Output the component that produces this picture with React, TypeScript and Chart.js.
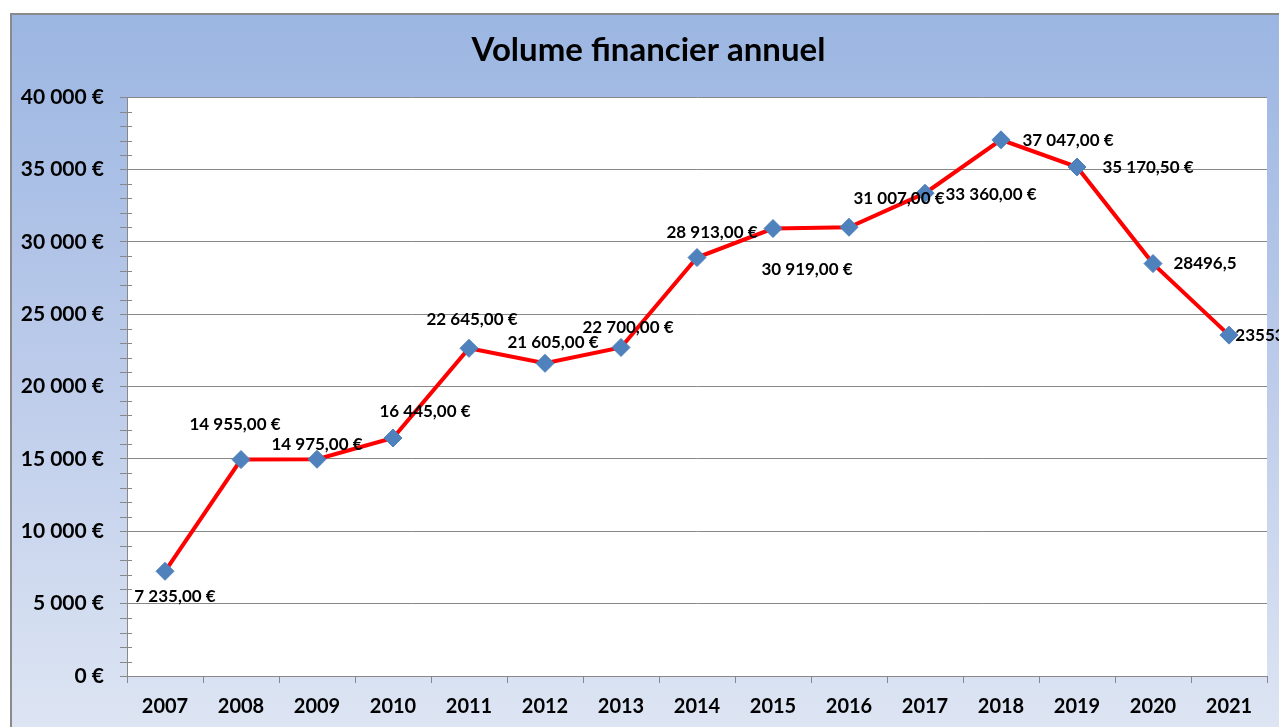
import React, { useEffect, useRef } from "react";
import { Chart, registerables } from "chart.js";

Chart.register(...registerables);

const years = ["2007", "2008", "2009", "2010", "2011", "2012", "2013", "2014", "2015", "2016", "2017", "2018", "2019", "2020", "2021"];
const volumes = [7235, 14955, 14975, 16445, 22645, 21605, 22700, 28913, 30919, 31007, 33360, 37047, 35170.5, 28496.5, 23553];
// label style per point: true = plain number, false = currency format
const plainLabel = [false, false, false, false, false, false, false, false, false, false, false, false, false, true, true];
const yTicks = [0, 5000, 10000, 15000, 20000, 25000, 30000, 35000, 40000];
const titleText = "Volume financier annuel";

// label offsets (px) from each point, for label centre
const labelOffsets: [number, number][] = [
  [10, 25], [-6, -35], [0, -15], [32, -26], [3, -29], [8, -21], [7, -20], [15, -25],
  [34, 41], [50, -29], [66, 1], [67, 1], [71, 1], [52, 0], [31, 0],
];

const FONT = "Lato, 'Open Sans', sans-serif";

function groupThousands(n: number): string {
  return String(n).replace(/\B(?=(\d{3})+(?!\d))/g, " ");
}
function formatEuro(v: number): string {
  const fixed = v.toFixed(2);
  const [ip, dp] = fixed.split(".");
  return groupThousands(Number(ip)) + "," + dp + " €";
}
function formatPlain(v: number): string {
  return String(v).replace(".", ",");
}

const bgPlugin = {
  id: "bgPlugin",
  afterLayout(chart: any) {
    // the original chart frame is wider than the window: shift the title centre
    if (chart.titleBlock) {
      chart.titleBlock.left += 15;
      chart.titleBlock.right += 15;
    }
  },
  beforeDraw(chart: any) {
    const { ctx, width, height, chartArea } = chart;
    ctx.save();
    ctx.fillStyle = "#ffffff";
    ctx.fillRect(0, 0, width, height);
    const g = ctx.createLinearGradient(0, 13, 0, height);
    g.addColorStop(0, "#9bb6e2");
    g.addColorStop(0.5, "#bccbea");
    g.addColorStop(1, "#dde5f3");
    ctx.fillStyle = g;
    ctx.fillRect(10, 13, width - 10, height - 13);
    ctx.strokeStyle = "#8a8a8a";
    ctx.lineWidth = 2;
    ctx.beginPath();
    ctx.moveTo(11, height);
    ctx.lineTo(11, 14);
    ctx.lineTo(width, 14);
    ctx.stroke();
    ctx.fillStyle = "#ffffff";
    ctx.fillRect(chartArea.left, chartArea.top, chartArea.right - chartArea.left, chartArea.bottom - chartArea.top);
    ctx.restore();
  },
};

const minorTickPlugin = {
  id: "minorTicks",
  afterDraw(chart: any) {
    const { ctx, chartArea, scales } = chart;
    const y = scales.y;
    ctx.save();
    ctx.strokeStyle = "#888888";
    ctx.lineWidth = 1;
    for (let v = 1000; v < 40000; v += 1000) {
      if (v % 5000 === 0) continue;
      const py = Math.round(y.getPixelForValue(v)) + 0.5;
      ctx.beginPath();
      ctx.moveTo(chartArea.left - 7, py);
      ctx.lineTo(chartArea.left + 5, py);
      ctx.stroke();
    }
    ctx.restore();
  },
};

const labelPlugin = {
  id: "pointLabels",
  afterDatasetsDraw(chart: any) {
    const { ctx } = chart;
    const meta = chart.getDatasetMeta(0);
    ctx.save();
    ctx.font = `bold 17px ${FONT}`;
    ctx.fillStyle = "#000000";
    ctx.textAlign = "center";
    ctx.textBaseline = "middle";
    meta.data.forEach((pt: any, i: number) => {
      const v = volumes[i];
      const txt = plainLabel[i] ? formatPlain(v) : formatEuro(v);
      const [dx, dy] = labelOffsets[i];
      ctx.fillText(txt, pt.x + dx, pt.y + dy);
    });
    ctx.restore();
  },
};

export default function App() {
  const ref = useRef<HTMLCanvasElement | null>(null);
  useEffect(() => {
    if (!ref.current) return;
    const chart = new Chart(ref.current, {
      type: "line",
      data: {
        labels: years,
        datasets: [
          {
            label: "Volume",
            data: volumes,
            borderColor: "#ff0000",
            borderWidth: 4,
            tension: 0,
            pointStyle: "rectRot",
            pointRadius: 9,
            pointHoverRadius: 9,
            pointBackgroundColor: "#4f81bd",
            pointBorderColor: "#4f81bd",
            pointBorderWidth: 1,
            clip: false as any,
          },
        ],
      },
      options: {
        animation: false,
        responsive: false,
        maintainAspectRatio: false,
        events: [],
        layout: { padding: { left: 0, right: 12, top: 20, bottom: 0 } },
        plugins: {
          legend: { display: false },
          tooltip: { enabled: false },
          title: {
            display: true,
            text: titleText,
            color: "#000000",
            font: { family: FONT, size: 33, weight: "bold" },
            padding: { top: 11, bottom: 26.5 },
          },
        },
        scales: {
          x: {
            type: "category",
            offset: true,
            grid: { display: true, drawOnChartArea: false, drawTicks: true, tickLength: 7, color: "#888888", offset: true },
            border: { display: true, color: "#888888", width: 1 },
            ticks: { color: "#000000", font: { family: FONT, size: 20, weight: "bold" }, padding: 12, maxRotation: 0, autoSkip: false },
            afterFit(scale: any) { scale.height = 51; },
          },
          y: {
            type: "linear",
            min: 0,
            max: 40000,
            afterBuildTicks(scale: any) { scale.ticks = yTicks.map((v) => ({ value: v })); },
            grid: { display: true, drawOnChartArea: true, drawTicks: true, tickLength: 7, color: "#878787" },
            border: { display: true, color: "#888888", width: 1 },
            ticks: {
              color: "#000000",
              font: { family: FONT, size: 21, weight: "bold" },
              padding: 16,
              callback: (v: any) => groupThousands(Number(v)) + " €",
            },
            afterFit(scale: any) { scale.width = 127; },
          },
        },
      },
      plugins: [bgPlugin, minorTickPlugin, labelPlugin],
    });
    return () => chart.destroy();
  }, []);
  return (
    <div style={{ position: "fixed", left: 0, top: 0, width: 1279, height: 727, overflow: "hidden" }}>
      <canvas ref={ref} width={1279} height={727} style={{ display: "block", width: 1279, height: 727 }} />
    </div>
  );
}
